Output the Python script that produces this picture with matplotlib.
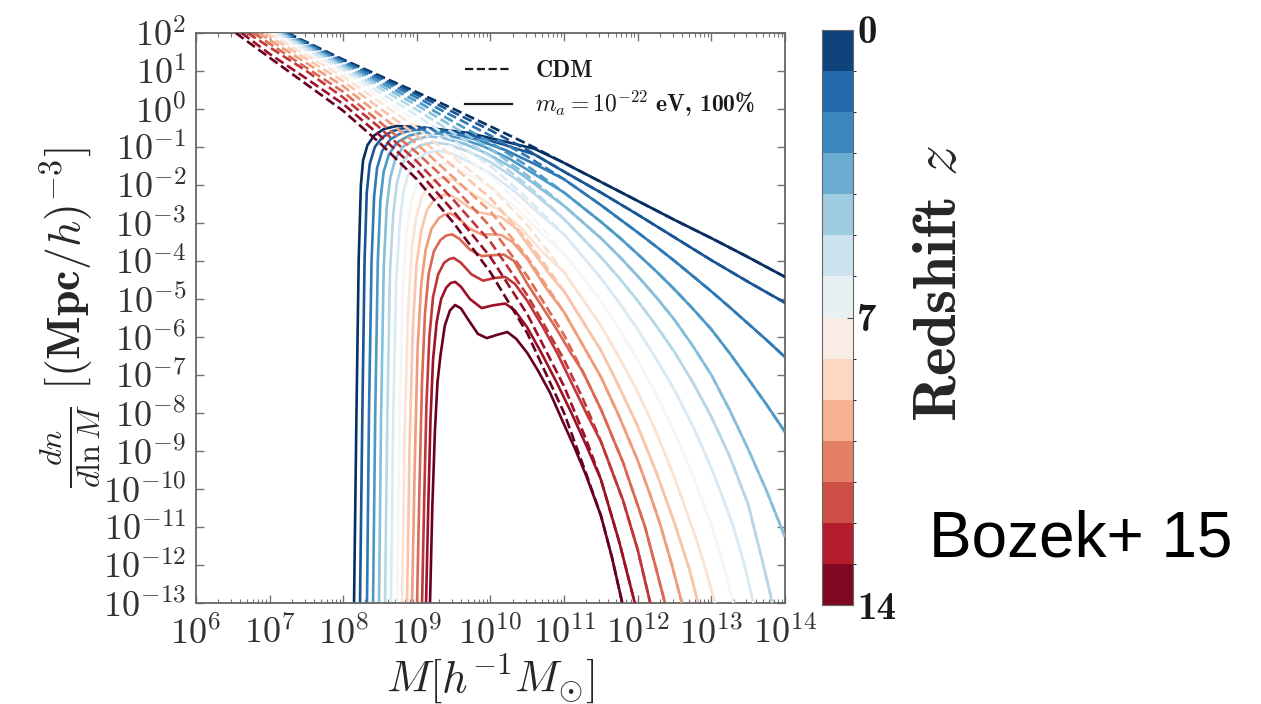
import numpy as np
import matplotlib
matplotlib.use("Agg")
import matplotlib.pyplot as plt
from matplotlib.colors import ListedColormap, BoundaryNorm
from matplotlib.cm import ScalarMappable
from matplotlib.lines import Line2D
import matplotlib.ticker as mt

# ---------------- data (log10 values) ----------------
redshifts = list(range(15))

cdm_logM = [
    [7.24, 8.0, 8.5, 9.0, 9.5, 10.0, 10.5, 11.0, 11.5, 12.0, 12.5, 13.0, 13.5, 14.0],
    [7.22, 8.0, 9.0, 10.0, 10.5, 11.0, 11.5, 12.0, 12.5, 13.0, 13.5, 14.0],
    [7.20, 8.0, 9.0, 10.0, 10.5, 11.0, 11.5, 12.0, 12.25, 12.5, 12.75, 13.0, 13.25, 13.5, 13.75, 14.0],
    [7.18, 8.0, 9.0, 10.0, 10.5, 11.0, 11.5, 11.75, 12.0, 12.25, 12.5, 12.75, 13.0, 13.25, 13.5, 13.75, 14.0],
    [7.15, 8.0, 9.0, 10.0, 10.5, 11.0, 11.5, 11.75, 12.0, 12.25, 12.5, 12.75, 13.0, 13.25, 13.5, 13.75, 14.0],
    [7.12, 8.0, 9.0, 10.0, 10.5, 11.0, 11.5, 11.75, 12.0, 12.25, 12.5, 12.75, 13.0, 13.25, 13.5, 13.7, 13.83],
    [7.08, 8.0, 9.0, 10.0, 10.5, 11.0, 11.5, 11.75, 12.0, 12.25, 12.5, 12.75, 13.0, 13.15, 13.3, 13.45, 13.57],
    [7.03, 8.0, 9.0, 10.0, 10.5, 11.0, 11.5, 11.75, 12.0, 12.25, 12.5, 12.75, 13.0, 13.15, 13.3],
    [6.98, 8.0, 9.0, 10.0, 10.5, 11.0, 11.5, 11.75, 12.0, 12.25, 12.5, 12.8, 12.92, 13.05],
    [6.92, 8.0, 9.0, 10.0, 10.5, 11.0, 11.5, 11.75, 12.0, 12.25, 12.5, 12.7, 12.82],
    [6.85, 8.0, 9.0, 10.0, 10.5, 11.0, 11.5, 11.75, 12.0, 12.15, 12.3, 12.45, 12.6],
    [6.78, 8.0, 9.0, 9.5, 10.0, 10.5, 11.0, 11.25, 11.5, 11.8, 12.1, 12.25, 12.37],
    [6.70, 7.5, 8.0, 8.5, 9.0, 9.5, 10.0, 10.5, 11.0, 11.25, 11.5, 11.8, 12.0, 12.17],
    [6.62, 7.0, 7.5, 8.0, 8.5, 9.0, 9.5, 10.0, 10.5, 11.0, 11.3, 11.5, 11.75, 11.96],
    [6.54, 7.0, 7.5, 8.0, 8.5, 9.0, 9.5, 10.0, 10.5, 11.0, 11.3, 11.5, 11.65, 11.79],
]
cdm_logn = [
    [2.0, 1.3, 0.87, 0.44, 0.0, -0.46, -0.92, -1.42, -1.92, -2.42, -2.92, -3.4, -3.9, -4.42],
    [2.0, 1.27, 0.38, -0.56, -1.08, -1.65, -2.2, -2.78, -3.38, -3.98, -4.55, -5.1],
    [2.0, 1.24, 0.3, -0.7, -1.25, -1.85, -2.53, -3.25, -3.62, -4.0, -4.4, -4.8, -5.22, -5.65, -6.08, -6.53],
    [2.0, 1.2, 0.2, -0.88, -1.5, -2.2, -2.97, -3.38, -3.82, -4.27, -4.75, -5.26, -5.8, -6.43, -7.1, -7.78, -8.5],
    [2.0, 1.15, 0.1, -1.05, -1.75, -2.55, -3.4, -3.88, -4.4, -4.95, -5.55, -6.24, -7.0, -7.93, -8.95, -10.05, -11.26],
    [2.0, 1.1, -0.02, -1.25, -2.0, -2.9, -3.9, -4.45, -5.05, -5.7, -6.4, -7.2, -8.1, -9.15, -10.4, -11.95, -13.0],
    [2.0, 1.03, -0.17, -1.5, -2.35, -3.3, -4.45, -5.1, -5.8, -6.57, -7.4, -8.35, -9.45, -10.2, -11.0, -12.0, -13.0],
    [2.0, 0.95, -0.33, -1.75, -2.7, -3.8, -5.05, -5.8, -6.6, -7.52, -8.5, -9.65, -10.95, -11.9, -13.0],
    [2.0, 0.85, -0.5, -2.05, -3.05, -4.3, -5.7, -6.55, -7.45, -8.5, -9.7, -11.35, -12.1, -13.0],
    [2.0, 0.73, -0.7, -2.35, -3.45, -4.8, -6.35, -7.32, -8.35, -9.55, -10.9, -12.1, -13.0],
    [2.0, 0.6, -0.92, -2.7, -3.9, -5.35, -7.05, -8.1, -9.25, -10.05, -10.9, -11.9, -13.0],
    [2.0, 0.45, -1.15, -2.05, -3.1, -4.4, -5.95, -6.9, -7.9, -9.3, -11.0, -12.1, -13.0],
    [2.0, 1.0, 0.3, -0.5, -1.38, -2.4, -3.5, -4.9, -6.6, -7.6, -8.75, -10.3, -11.6, -13.0],
    [2.0, 1.45, 0.8, 0.13, -0.7, -1.6, -2.7, -3.9, -5.4, -7.3, -8.7, -9.75, -11.4, -13.0],
    [2.0, 1.35, 0.65, -0.05, -0.9, -1.85, -3.0, -4.3, -5.9, -8.0, -9.6, -10.7, -11.8, -13.0],
]

# axion (m_a = 1e-22 eV) curves, low-mass part; beyond the last point they follow CDM
axion_logM = [
    [8.147, 8.18, 8.21, 8.24, 8.27, 8.33, 8.42, 8.55, 8.72, 9.0, 9.37, 9.7, 10.2, 10.6],
    [8.228, 8.26, 8.29, 8.32, 8.36, 8.43, 8.53, 8.67, 8.85, 9.1, 9.4, 9.7, 10.2, 10.6],
    [8.323, 8.35, 8.385, 8.42, 8.46, 8.53, 8.64, 8.8, 8.98, 9.2, 9.5, 9.8, 10.2, 10.6],
    [8.405, 8.435, 8.47, 8.505, 8.55, 8.62, 8.73, 8.9, 9.08, 9.3, 9.6, 9.9, 10.25, 10.6],
    [8.486, 8.515, 8.55, 8.59, 8.64, 8.71, 8.82, 8.98, 9.16, 9.35, 9.65, 9.95, 10.3, 10.65],
    [8.568, 8.6, 8.635, 8.68, 8.73, 8.8, 8.91, 9.06, 9.23, 9.42, 9.7, 10.0, 10.35, 10.7],
    [8.649, 8.68, 8.72, 8.77, 8.82, 8.9, 9.0, 9.14, 9.29, 9.47, 9.72, 10.0, 10.35, 10.7],
    [8.731, 8.765, 8.81, 8.86, 8.92, 9.0, 9.1, 9.22, 9.34, 9.5, 9.72, 10.0, 10.35, 10.7],
    [8.799, 8.835, 8.88, 8.93, 8.99, 9.07, 9.17, 9.28, 9.39, 9.52, 9.7, 9.9, 10.15, 10.4, 10.7],
    [8.867, 8.9, 8.945, 8.995, 9.06, 9.14, 9.24, 9.34, 9.43, 9.55, 9.7, 9.85, 10.0, 10.15, 10.35, 10.6, 10.85],
    [8.935, 8.97, 9.01, 9.06, 9.12, 9.2, 9.3, 9.38, 9.46, 9.57, 9.72, 9.88, 10.02, 10.15, 10.3, 10.5, 10.75],
    [9.003, 9.035, 9.07, 9.11, 9.16, 9.23, 9.32, 9.4, 9.48, 9.58, 9.72, 9.88, 10.03, 10.18, 10.32, 10.5, 10.7, 10.9, 11.1],
    [9.071, 9.1, 9.13, 9.17, 9.22, 9.29, 9.37, 9.44, 9.5, 9.6, 9.74, 9.9, 10.05, 10.2, 10.33, 10.5, 10.7, 10.9, 11.1, 11.3],
    [9.125, 9.155, 9.185, 9.22, 9.27, 9.33, 9.4, 9.46, 9.52, 9.6, 9.72, 9.88, 10.03, 10.2, 10.33, 10.5, 10.7, 10.9, 11.1, 11.3],
    [9.179, 9.21, 9.245, 9.28, 9.32, 9.38, 9.45, 9.52, 9.6, 9.7, 9.83, 9.95, 10.08, 10.23, 10.35, 10.5, 10.65, 10.81, 10.99, 11.15, 11.3],
]
axion_logn = [
    [-13, -8, -4, -2.0, -1.35, -0.95, -0.7, -0.53, -0.45, -0.47, -0.55, -0.63, -0.86, -1.05],
    [-13, -8, -4, -2.2, -1.45, -1.0, -0.75, -0.58, -0.5, -0.5, -0.57, -0.67, -0.95, -1.2],
    [-13, -8, -4, -2.3, -1.55, -1.1, -0.8, -0.62, -0.55, -0.56, -0.65, -0.8, -1.08, -1.45],
    [-13, -8, -4, -2.4, -1.65, -1.2, -0.88, -0.7, -0.62, -0.65, -0.78, -0.98, -1.3, -1.72],
    [-13, -8, -4.2, -2.6, -1.8, -1.3, -0.98, -0.8, -0.72, -0.76, -0.92, -1.17, -1.55, -2.05],
    [-13, -8, -4.3, -2.75, -1.95, -1.45, -1.12, -0.95, -0.88, -0.93, -1.12, -1.4, -1.85, -2.4],
    [-13, -8, -4.5, -2.95, -2.15, -1.62, -1.32, -1.16, -1.1, -1.17, -1.4, -1.7, -2.2, -2.82],
    [-13, -8, -4.8, -3.25, -2.45, -1.95, -1.62, -1.47, -1.42, -1.5, -1.75, -2.05, -2.6, -3.3],
    [-13, -8.5, -5.3, -3.7, -2.85, -2.3, -1.98, -1.84, -1.8, -1.9, -2.15, -2.4, -2.7, -3.1, -3.75],
    [-13, -9, -5.8, -4.1, -3.2, -2.65, -2.38, -2.27, -2.25, -2.37, -2.58, -2.72, -2.78, -2.85, -3.15, -3.82, -4.47],
    [-13, -9.5, -6.3, -4.6, -3.7, -3.15, -2.87, -2.78, -2.75, -2.88, -3.15, -3.3, -3.3, -3.32, -3.5, -3.95, -4.7],
    [-13, -10, -7.2, -5.4, -4.35, -3.75, -3.45, -3.33, -3.3, -3.42, -3.7, -3.87, -3.85, -3.83, -4.0, -4.6, -5.2, -5.8, -6.45],
    [-13, -10.3, -7.8, -6.0, -4.95, -4.35, -4.05, -3.95, -3.92, -4.05, -4.35, -4.52, -4.45, -4.42, -4.6, -5.05, -5.7, -6.4, -7.2, -8.0],
    [-13, -10.5, -8.2, -6.6, -5.6, -5.0, -4.7, -4.58, -4.55, -4.68, -5.0, -5.24, -5.17, -5.12, -5.3, -5.75, -6.45, -7.2, -8.0, -8.85],
    [-13, -10.5, -8.5, -7.2, -6.5, -5.7, -5.3, -5.16, -5.25, -5.55, -5.92, -6.03, -5.95, -5.87, -6.05, -6.42, -6.9, -7.47, -8.26, -8.95, -9.65],
]

x_tick_exponents = list(range(6, 15))
y_tick_exponents = list(range(-13, 3))
x_limits = (1e6, 1e14)
y_limits = (1e-13, 1e2)
cbar_ticks = [0, 7, 14]
cbar_ticklabels = ["0", "7", "14"]
legend_labels = ["CDM", r"$m_a = 10^{-22}$ eV, 100%"]

# ---------------- figure ----------------
plt.rcParams["mathtext.fontset"] = "cm"
plt.rcParams["font.family"] = ["DejaVu Serif"]

fig = plt.figure(figsize=(12.61, 7.04), dpi=100)
ax = fig.add_axes([0.1554, 0.1435, 0.4671, 0.8097])

cmap = plt.get_cmap("RdBu_r")
zmax = 14.0
lw = 1.9
for i, z in enumerate(redshifts):
    col = cmap(z / zmax)
    cm_ = np.array(cdm_logM[i])
    cn_ = np.array(cdm_logn[i])
    am = list(axion_logM[i])
    an = list(axion_logn[i])
    for m, n in zip(cdm_logM[i], cdm_logn[i]):
        if m > am[-1]:
            am.append(m)
            an.append(n)
    ax.plot(10 ** np.array(am), 10 ** np.array(an), "-", color=col, lw=lw, zorder=2)
    ax.plot(10 ** cm_, 10 ** cn_, "--", color=col, lw=lw, zorder=3)

ax.set_xscale("log")
ax.set_yscale("log")
ax.set_xlim(*x_limits)
ax.set_ylim(*y_limits)

xt = [10.0 ** e for e in x_tick_exponents]
yt = [10.0 ** e for e in y_tick_exponents]
xminor = [s * 10.0 ** e for e in x_tick_exponents[:-1] for s in range(2, 10)]
ax.xaxis.set_major_locator(mt.FixedLocator(xt))
ax.xaxis.set_major_formatter(mt.FixedFormatter([r"$10^{%d}$" % e for e in x_tick_exponents]))
ax.xaxis.set_minor_locator(mt.FixedLocator(xminor))
ax.xaxis.set_minor_formatter(mt.NullFormatter())
ax.yaxis.set_major_locator(mt.FixedLocator(yt))
ax.yaxis.set_major_formatter(mt.FixedFormatter([r"$10^{%d}$" % e for e in y_tick_exponents]))
ax.yaxis.set_minor_locator(mt.NullLocator())

ax.tick_params(which="both", direction="in", top=True, right=True,
               color="0.45", labelcolor="0.2")
ax.tick_params(which="major", length=6, width=1.0, labelsize=26)
ax.tick_params(axis="x", which="major", pad=9)
ax.tick_params(axis="y", which="major", pad=7)
ax.tick_params(which="minor", length=3, width=0.8)
for sp in ax.spines.values():
    sp.set_color("0.4")
    sp.set_linewidth(1.3)

ax.set_xlabel(r"$M[h^{-1}M_{\odot}]$", fontsize=32, color="0.15", labelpad=1)
ax.set_ylabel(r"$\frac{dn}{d\ln M}\ [(\mathbf{Mpc}/h)^{-3}]$", fontsize=33,
              color="0.15", labelpad=0)

handles = [Line2D([], [], color="0.1", ls="--", lw=1.6),
           Line2D([], [], color="0.1", ls="-", lw=1.6)]
leg = ax.legend(handles, legend_labels, loc="upper left", bbox_to_anchor=(0.42, 0.99),
                frameon=False, prop={"family": "cmb10", "size": 17},
                handlelength=2.0, handletextpad=1.0, labelspacing=0.3,
                labelcolor="0.1")

# ---------------- colorbar ----------------
cax = fig.add_axes([0.6519, 0.1406, 0.0246, 0.8168])
colors14 = cmap((np.arange(14) + 0.5) / 14)
lcmap = ListedColormap(colors14)
norm = BoundaryNorm(np.arange(15), 14)
cb = fig.colorbar(ScalarMappable(norm=norm, cmap=lcmap), cax=cax, ticks=cbar_ticks)
cax.invert_yaxis()
cb.set_ticks(cbar_ticks)
cb.set_ticklabels(cbar_ticklabels)
for t in cax.get_yticklabels():
    t.set_fontfamily("cmb10")
cax.tick_params(labelsize=28, length=4, direction="in", color="0.3", labelcolor="0.1", pad=3)
cb.outline.set_edgecolor("0.4")
cax.set_ylabel(r"Redshift $z$", fontsize=44, color="0.15", rotation=90,
               fontfamily="cmb10")
cax.yaxis.set_label_coords(2.95, 0.56)

fig.text(0.737, 0.209, "Bozek+ 15", fontsize=46, family=["Liberation Sans"],
         color="black", va="baseline", ha="left")

fig.savefig("out.png", dpi=100)
